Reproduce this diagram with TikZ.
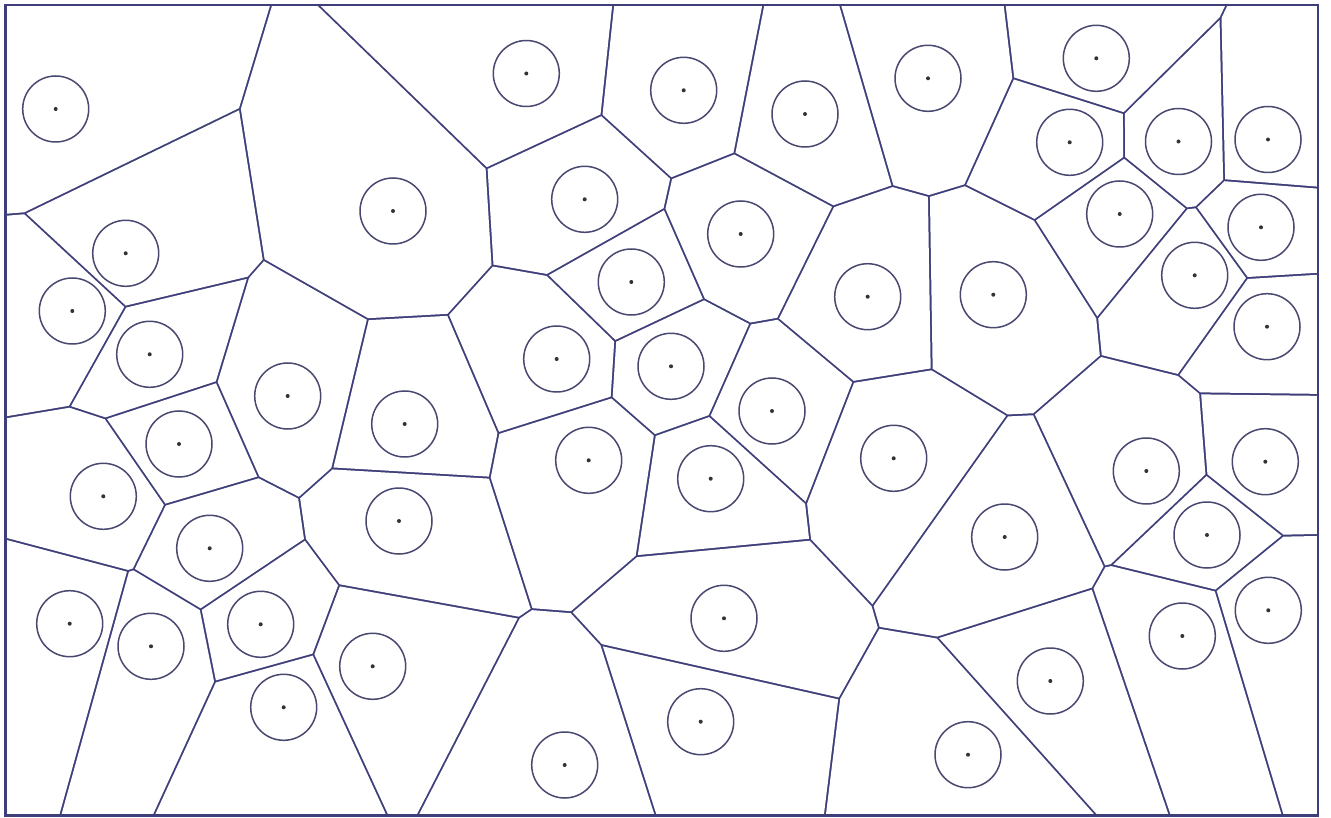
\documentclass[tikz,border=0pt]{standalone}
\definecolor{vline}{RGB}{62,62,122}
\definecolor{vcirc}{RGB}{72,72,112}
\def\vgap{1.0}
\def\sitelist{55.7/109, 125.7/253.3, 72.3/311, 149.7/354.3, 179/444, 103.3/496.3, 209.7/548.3, 69.7/623.7, 151/646.3, 260.7/624.3, 283.7/707.3, 372.7/666.3, 399/521, 404.7/424, 287.7/396, 393/211, 526.3/73.5, 584.7/199.3, 683.7/90.3, 805/114, 928/78.3, 1096.3/58.3, 1069.7/142.3, 1178.5/141.5, 1268/139.5, 1119.7/214, 1261/227.3, 1194.7/275.3, 1267/326.7, 740.7/234, 631.3/282, 867.7/296.7, 993.3/294.7, 556.7/359, 671/366.3, 772/411, 588.7/460.3, 710.7/478.7, 893.7/458.3, 1146.3/471, 1265.3/461.7, 1207/535, 1004.7/537, 724/618.3, 1268.3/610.3, 1182.3/636, 1050.3/681, 700.7/721.7, 564.7/765, 968/754.7}
\tikzset{
  siteRing/.style={draw=vcirc, line width=1.5},
  siteDot/.style={fill=black!80},
  frameLine/.style={draw=vline, line width=2.6}
}
\begin{document}
\begin{tikzpicture}[x=1pt,y=-1pt]
\useasboundingbox (0,0) rectangle (1331,818);
\fill[white] (0,0) rectangle (1331,818);
\fill[vline] (5.3,5) rectangle (1318,815.7);
\foreach \xa/\ya [count=\i] in \sitelist {
  \begin{scope}
    \clip (6.3,6) rectangle (1317,814.7);
    \foreach \xb/\yb [count=\k] in \sitelist {
      \ifnum\i=\k\relax\else
        \pgfmathsetmacro\dx{\xa-\xb}
        \pgfmathsetmacro\dy{\ya-\yb}
        \pgfmathsetmacro\len{veclen(\dx,\dy)}
        \pgfmathsetmacro\nx{\dx/\len}
        \pgfmathsetmacro\ny{\dy/\len}
        \pgfmathsetmacro\mx{(\xa+\xb)/2+\vgap*\nx}
        \pgfmathsetmacro\my{(\ya+\yb)/2+\vgap*\ny}
        \pgfmathsetmacro\cax{\mx+3000*\ny}
        \pgfmathsetmacro\cay{\my-3000*\nx}
        \pgfmathsetmacro\cbx{\mx-3000*\ny}
        \pgfmathsetmacro\cby{\my+3000*\nx}
        \pgfmathsetmacro\ccx{\cbx+3000*\nx}
        \pgfmathsetmacro\ccy{\cby+3000*\ny}
        \pgfmathsetmacro\cdx{\cax+3000*\nx}
        \pgfmathsetmacro\cdy{\cay+3000*\ny}
        \clip (\cax,\cay) -- (\cbx,\cby) -- (\ccx,\ccy) -- (\cdx,\cdy) -- cycle;
      \fi
    }
    \fill[white] (0,0) rectangle (1331,818);
  \end{scope}
}
\path[frameLine] (5.3,5) rectangle (1318,815.7);
\foreach \xa/\ya in \sitelist {
  \path[siteRing] (\xa,\ya) circle[radius=33];
  \path[siteDot] (\xa,\ya) circle[radius=2];
}
\end{tikzpicture}
\end{document}
